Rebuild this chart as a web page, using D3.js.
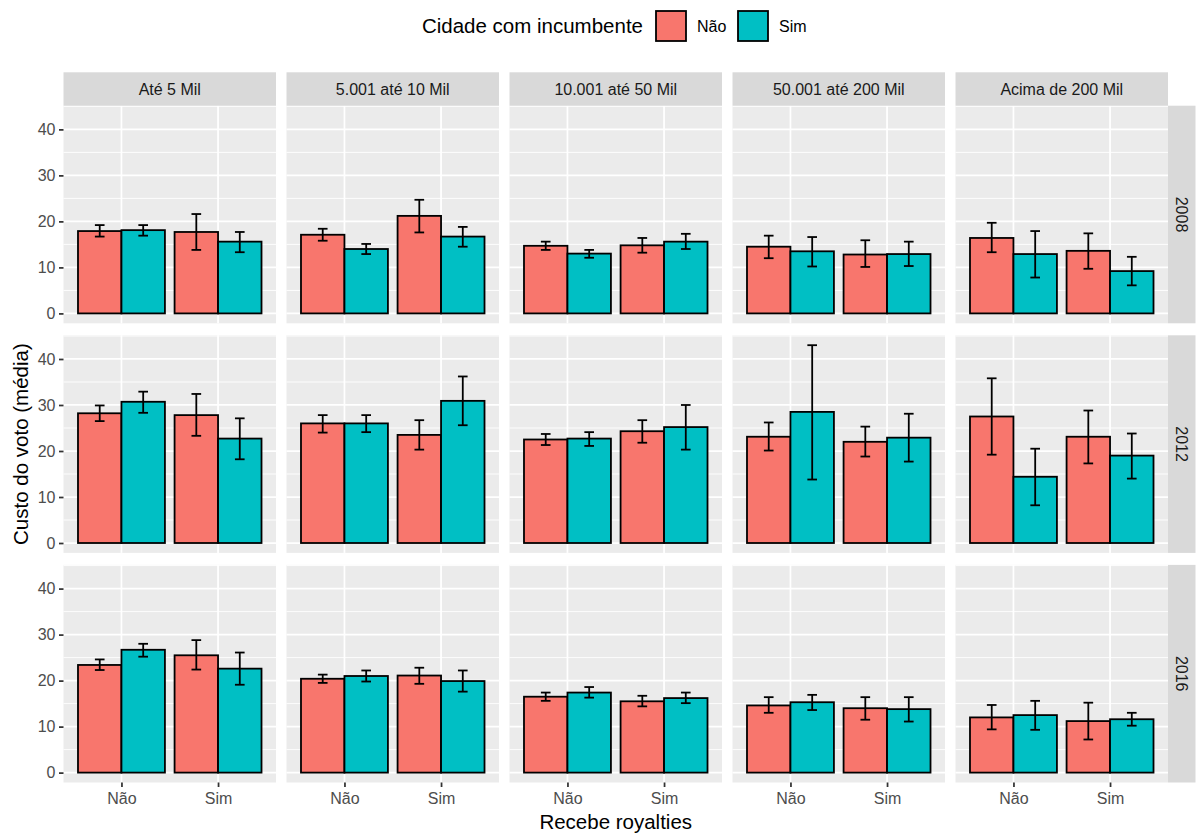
<!DOCTYPE html>
<html>
<head>
<meta charset="utf-8">
<script src="https://cdn.jsdelivr.net/npm/d3@7"></script>
<style>
  body { margin: 0; background: #ffffff; }
  svg { display: block; font-family: "Liberation Sans", Arial, Helvetica, sans-serif; }
</style>
</head>
<body>
<svg id="chart" width="1196" height="833"></svg>
<script>
// Facets: population bands (columns) and election years (rows)
const faixas = ["Até 5 Mil", "5.001 até 10 Mil", "10.001 até 50 Mil", "50.001 até 200 Mil", "Acima de 200 Mil"];
const anos = ["2008", "2012", "2016"];
const royalties = ["Não", "Sim"];     // x axis: "Recebe royalties"
const incumbente = ["Não", "Sim"];    // fill: "Cidade com incumbente"
const yTicks = [0, 10, 20, 30, 40];

// Mean vote cost per band; each inner list is
// [royalties Não / inc. Não, royalties Não / inc. Sim, royalties Sim / inc. Não, royalties Sim / inc. Sim]
const media2008 = [[17.9, 18.1, 17.7, 15.6], [17.1, 14.0, 21.2, 16.7], [14.7, 13.0, 14.8, 15.6], [14.5, 13.5, 12.8, 12.9], [16.4, 12.9, 13.6, 9.2]];
const inf2008   = [[16.7, 16.9, 13.8, 13.3], [15.8, 12.9, 17.6, 14.5], [13.8, 12.1, 13.2, 14.0], [12.0, 10.2, 10.1, 10.3], [13.3, 7.8, 9.7, 6.1]];
const sup2008   = [[19.2, 19.2, 21.6, 17.7], [18.4, 15.1, 24.7, 18.8], [15.6, 13.8, 16.4, 17.3], [16.9, 16.6, 15.9, 15.6], [19.7, 17.9, 17.4, 12.3]];

const media2012 = [[28.2, 30.7, 27.8, 22.7], [26.0, 26.0, 23.5, 30.9], [22.5, 22.7, 24.3, 25.2], [23.1, 28.5, 22.0, 22.9], [27.5, 14.4, 23.1, 19.0]];
const inf2012   = [[26.5, 28.3, 23.3, 18.2], [24.0, 24.1, 20.3, 25.6], [21.3, 21.1, 21.8, 20.3], [20.1, 13.8, 18.8, 17.7], [19.2, 8.2, 17.3, 14.0]];
const sup2012   = [[29.9, 32.9, 32.4, 27.1], [27.8, 27.8, 26.7, 36.2], [23.7, 24.1, 26.7, 30.0], [26.2, 43.0, 25.3, 28.1], [35.8, 20.5, 28.8, 23.8]];

const media2016 = [[23.4, 26.7, 25.5, 22.6], [20.4, 21.0, 21.1, 19.9], [16.5, 17.4, 15.5, 16.2], [14.6, 15.3, 14.0, 13.8], [12.0, 12.5, 11.2, 11.6]];
const inf2016   = [[22.3, 25.2, 22.4, 19.1], [19.5, 19.8, 19.3, 17.6], [15.6, 16.3, 14.4, 15.1], [13.0, 13.6, 11.5, 11.1], [9.4, 9.3, 7.2, 10.2]];
const sup2016   = [[24.6, 28.0, 28.8, 26.1], [21.3, 22.2, 22.8, 22.2], [17.4, 18.6, 16.7, 17.4], [16.4, 16.9, 16.4, 16.4], [14.7, 15.6, 15.2, 13.0]];

const medias = [media2008, media2012, media2016];
const inferiores = [inf2008, inf2012, inf2016];
const superiores = [sup2008, sup2012, sup2016];

// Long-format rows built from the arrays above
const rows = [];
anos.forEach((ano, i) => {
  faixas.forEach((faixa, j) => {
    for (let k = 0; k < 4; k++) {
      rows.push({
        ano, faixa,
        roy: royalties[k >> 1],
        inc: incumbente[k & 1],
        media: medias[i][j][k],
        inf: inferiores[i][j][k],
        sup: superiores[i][j][k]
      });
    }
  });
});

// Layout
const panelLeft = 63.5, panelW = 212.5, colStep = 223;
const panelTop = 105.7, panelH = 217.6, rowStep = 229.6;
const stripH = 33.4, stripRW = 27.5;
const smallFont = "16px", titleFont = "20.5px";

const svg = d3.select("#chart");
const fillColor = d3.scaleOrdinal().domain(incumbente).range(["#F8766D", "#00BFC4"]);

const yMax = d3.max(rows, d => Math.max(d.sup, d.media));
const yMin = 0;
const pad = (yMax - yMin) * 0.05;
const y = d3.scaleLinear().domain([yMin - pad, yMax + pad]).range([panelH, 0]);

const xRoy = d3.scalePoint().domain(royalties).range([0, panelW]).padding(0.6);
const step = xRoy.step();
const xInc = d3.scaleBand().domain(incumbente).range([-0.45 * step, 0.45 * step]);
const whisker = 0.05 * step;

const minorTicks = [5, 15, 25, 35, 45].filter(v => v >= y.domain()[0] && v <= y.domain()[1]);

anos.forEach((ano, i) => {
  faixas.forEach((faixa, j) => {
    const g = svg.append("g")
      .attr("transform", `translate(${panelLeft + j * colStep},${panelTop + i * rowStep})`);

    g.append("rect").attr("width", panelW).attr("height", panelH).attr("fill", "#EBEBEB");

    g.selectAll(".minor").data(minorTicks).join("line")
      .attr("x1", 0).attr("x2", panelW)
      .attr("y1", d => y(d)).attr("y2", d => y(d))
      .attr("stroke", "#ffffff").attr("stroke-width", 0.9);

    g.selectAll(".major").data(yTicks).join("line")
      .attr("x1", 0).attr("x2", panelW)
      .attr("y1", d => y(d)).attr("y2", d => y(d))
      .attr("stroke", "#ffffff").attr("stroke-width", 1.75);

    g.selectAll(".vmajor").data(royalties).join("line")
      .attr("x1", d => xRoy(d)).attr("x2", d => xRoy(d))
      .attr("y1", 0).attr("y2", panelH)
      .attr("stroke", "#ffffff").attr("stroke-width", 1.75);

    const data = rows.filter(r => r.ano === ano && r.faixa === faixa);

    g.selectAll(".bar").data(data).join("rect")
      .attr("x", d => xRoy(d.roy) + xInc(d.inc))
      .attr("width", xInc.bandwidth())
      .attr("y", d => y(d.media))
      .attr("height", d => y(0) - y(d.media))
      .attr("fill", d => fillColor(d.inc))
      .attr("stroke", "#000000").attr("stroke-width", 1.8);

    const eb = g.selectAll(".eb").data(data).join("g")
      .attr("transform", d => `translate(${xRoy(d.roy) + xInc(d.inc) + xInc.bandwidth() / 2},0)`);
    eb.append("line").attr("x1", 0).attr("x2", 0)
      .attr("y1", d => y(d.inf)).attr("y2", d => y(d.sup));
    eb.append("line").attr("x1", -whisker).attr("x2", whisker)
      .attr("y1", d => y(d.sup)).attr("y2", d => y(d.sup));
    eb.append("line").attr("x1", -whisker).attr("x2", whisker)
      .attr("y1", d => y(d.inf)).attr("y2", d => y(d.inf));
    eb.selectAll("line").attr("stroke", "#000000").attr("stroke-width", 1.8);

    // left axis on first column
    if (j === 0) {
      const ax = g.append("g").call(d3.axisLeft(y).tickValues(yTicks).tickSize(4.5).tickPadding(3.5));
      ax.select(".domain").remove();
      ax.selectAll("line").attr("stroke", "#333333").attr("stroke-width", 1.75);
      ax.selectAll("text").attr("fill", "#4D4D4D").style("font-size", smallFont)
        .style("font-family", "'Liberation Sans', Arial, sans-serif");
    }
    // bottom axis on last row
    if (i === anos.length - 1) {
      const ax = g.append("g").attr("transform", `translate(0,${panelH})`)
        .call(d3.axisBottom(xRoy).tickSize(4.5).tickPadding(5.5));
      ax.select(".domain").remove();
      ax.selectAll("line").attr("stroke", "#333333").attr("stroke-width", 1.75);
      ax.selectAll("text").attr("fill", "#4D4D4D").style("font-size", smallFont)
        .style("font-family", "'Liberation Sans', Arial, sans-serif");
    }
  });
});

// Column strips
faixas.forEach((faixa, j) => {
  const x0 = panelLeft + j * colStep;
  svg.append("rect").attr("x", x0).attr("y", panelTop - stripH)
    .attr("width", panelW).attr("height", stripH).attr("fill", "#D9D9D9");
  svg.append("text").attr("x", x0 + panelW / 2).attr("y", panelTop - stripH / 2)
    .attr("dy", "0.35em").attr("text-anchor", "middle")
    .attr("fill", "#1A1A1A").style("font-size", smallFont).text(faixa);
});

// Row strips
const stripX = panelLeft + (faixas.length - 1) * colStep + panelW;
anos.forEach((ano, i) => {
  const y0 = panelTop + i * rowStep;
  svg.append("rect").attr("x", stripX).attr("y", y0)
    .attr("width", stripRW).attr("height", panelH).attr("fill", "#D9D9D9");
  svg.append("text")
    .attr("transform", `translate(${stripX + stripRW / 2},${y0 + panelH / 2}) rotate(90)`)
    .attr("dy", "0.35em").attr("text-anchor", "middle")
    .attr("fill", "#1A1A1A").style("font-size", smallFont).text(ano);
});

// Axis titles
const plotMidX = (panelLeft + stripX) / 2;
const plotMidY = panelTop + (rowStep * 2 + panelH) / 2;
svg.append("text").attr("x", plotMidX).attr("y", 829)
  .attr("text-anchor", "middle").attr("fill", "#000000").style("font-size", titleFont)
  .text("Recebe royalties");
svg.append("text").attr("transform", `translate(28,${plotMidY}) rotate(-90)`)
  .attr("text-anchor", "middle").attr("fill", "#000000").style("font-size", titleFont)
  .text("Custo do voto (média)");

// Legend
const legend = svg.append("g");
legend.append("text").attr("x", 643).attr("y", 26).attr("dy", "0.35em")
  .attr("text-anchor", "end").style("font-size", titleFont).attr("fill", "#000000")
  .text("Cidade com incumbente");
const keyX = [656, 738];
incumbente.forEach((lab, k) => {
  legend.append("rect").attr("x", keyX[k]).attr("y", 11).attr("width", 30).attr("height", 30)
    .attr("fill", fillColor(lab)).attr("stroke", "#000000").attr("stroke-width", 1.8);
  legend.append("text").attr("x", keyX[k] + 41).attr("y", 26).attr("dy", "0.35em")
    .style("font-size", smallFont).attr("fill", "#000000").text(lab);
});
</script>
</body>
</html>
